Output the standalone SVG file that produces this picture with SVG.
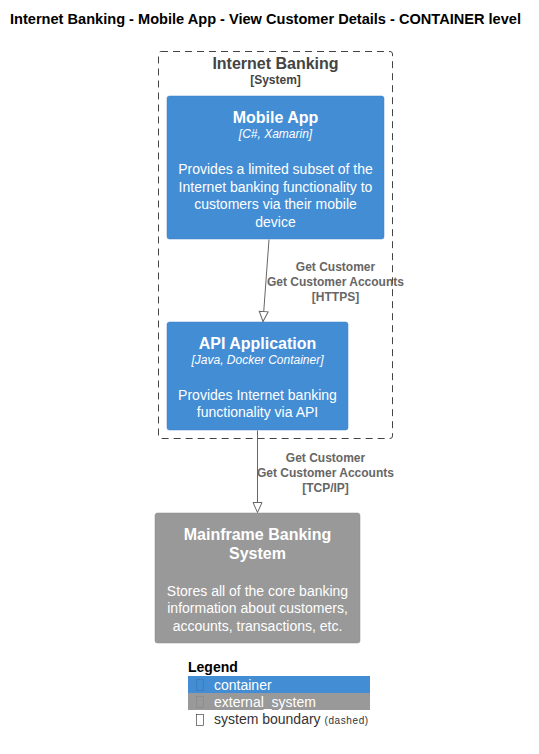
<svg xmlns="http://www.w3.org/2000/svg" width="539" height="754" viewBox="0 0 539 754">
<style>
text{font-family:"Liberation Sans",Arial,sans-serif}
.title{font-size:14px;font-weight:bold;fill:#000}
.bname{font-size:16px;font-weight:bold;fill:#444}
.btype{font-size:12px;font-weight:bold;fill:#444}
.nname{font-size:16px;font-weight:bold;fill:#fff}
.ntech{font-size:12px;font-style:italic;fill:#fff}
.ndesc{font-size:14px;fill:#fff}
.lbl{font-size:12px;font-weight:bold;fill:#666}
.cont{fill:#438DD5;stroke:#3C7FC0;stroke-width:0.5}
.ext{fill:#999999;stroke:#8A8A8A;stroke-width:0.5}
.conn{stroke:#666;stroke-width:1;fill:none}
.leg{font-size:14px;fill:#fff}
</style>
<defs>
<marker id="arr" viewBox="0 0 12 12" refX="11" refY="6" markerWidth="12" markerHeight="12" markerUnits="userSpaceOnUse" orient="auto">
<path d="M1,1.5 L11,6 L1,10.5 Z" fill="#fff" stroke="#666" stroke-width="1"/>
</marker>
</defs>
<rect width="539" height="754" fill="#fff"/>
<text class="title" x="10" y="24" textLength="511" lengthAdjust="spacingAndGlyphs">Internet Banking - Mobile App - View Customer Details - CONTAINER level</text>

<g id="boundary">
<rect x="158.5" y="51.5" width="234" height="387" rx="2.5" fill="none" stroke="#444" stroke-width="1" stroke-dasharray="7,5"/>
<text class="bname" x="275.5" y="69" text-anchor="middle">Internet Banking</text>
<text class="btype" x="275.5" y="84" text-anchor="middle">[System]</text>
</g>

<g id="mobile_app">
<rect class="cont" x="167" y="96" width="217" height="143" rx="2.5"/>
<text class="nname" x="275.5" y="123" text-anchor="middle">Mobile App</text>
<text class="ntech" x="275.5" y="138" text-anchor="middle">[C#, Xamarin]</text>
<text class="ndesc" x="275.5" y="174" text-anchor="middle">Provides a limited subset of the</text>
<text class="ndesc" x="275.5" y="192" text-anchor="middle">Internet banking functionality to</text>
<text class="ndesc" x="275.5" y="209" text-anchor="middle">customers via their mobile</text>
<text class="ndesc" x="275.5" y="227" text-anchor="middle">device</text>
</g>

<g id="api_app">
<rect class="cont" x="167" y="322" width="181" height="108" rx="2.5"/>
<text class="nname" x="257.5" y="349" text-anchor="middle">API Application</text>
<text class="ntech" x="257.5" y="364" text-anchor="middle">[Java, Docker Container]</text>
<text class="ndesc" x="257.5" y="400" text-anchor="middle">Provides Internet banking</text>
<text class="ndesc" x="257.5" y="417" text-anchor="middle">functionality via API</text>
</g>

<g id="mainframe">
<rect class="ext" x="155" y="513" width="205" height="130" rx="2.5"/>
<text class="nname" x="257.5" y="540" text-anchor="middle">Mainframe Banking</text>
<text class="nname" x="257.5" y="559" text-anchor="middle">System</text>
<text class="ndesc" x="257.5" y="596" text-anchor="middle">Stores all of the core banking</text>
<text class="ndesc" x="257.5" y="613" text-anchor="middle">information about customers,</text>
<text class="ndesc" x="257.5" y="631" text-anchor="middle">accounts, transactions, etc.</text>
</g>

<g id="connectors">
<path class="conn" d="M269,239.5 L263,321.5" marker-end="url(#arr)"/>
<text class="lbl" x="335.5" y="271" text-anchor="middle">Get Customer</text>
<text class="lbl" x="335.5" y="286" text-anchor="middle">Get Customer Accounts</text>
<text class="lbl" x="335.5" y="301" text-anchor="middle">[HTTPS]</text>
<path class="conn" d="M257.5,430.5 L257.5,512.5" marker-end="url(#arr)"/>
<text class="lbl" x="325.5" y="462" text-anchor="middle">Get Customer</text>
<text class="lbl" x="325.5" y="477" text-anchor="middle">Get Customer Accounts</text>
<text class="lbl" x="325.5" y="492" text-anchor="middle">[TCP/IP]</text>
</g>

<g id="legend">
<text x="188" y="672" font-size="14" font-weight="bold" fill="#000">Legend</text>
<rect x="188" y="676" width="182" height="17" fill="#438DD5"/>
<rect x="196.5" y="679.5" width="7" height="11" fill="none" stroke="#3A78B5" stroke-width="0.7"/>
<text class="leg" x="214" y="690">container</text>
<rect x="188" y="693" width="182" height="17" fill="#999999"/>
<rect x="196.5" y="696.5" width="7" height="11" fill="none" stroke="#888" stroke-width="0.7"/>
<text class="leg" x="214" y="707">external_system</text>
<rect x="196.5" y="714.5" width="7" height="11" fill="none" stroke="#444" stroke-width="0.7"/>
<text x="214" y="724" font-size="14" fill="#333">system boundary <tspan font-size="10" letter-spacing="0.6">(dashed)</tspan></text>
</g>
</svg>
